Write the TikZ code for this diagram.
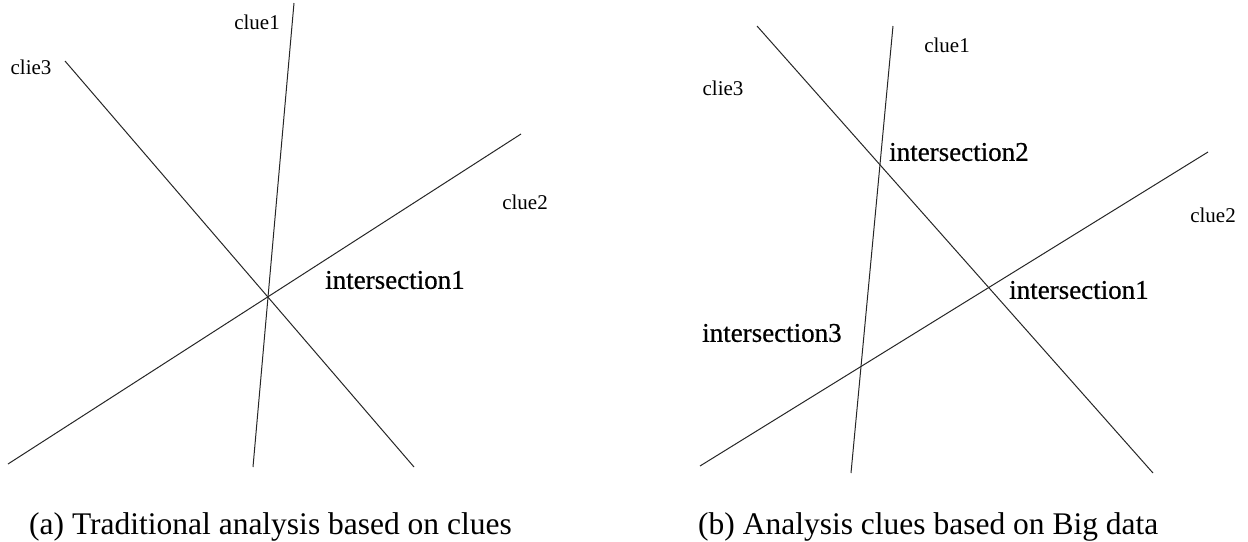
\documentclass[tikz,border=0pt]{standalone}
\usepackage{fontspec}
\setmainfont{Liberation Serif}
\usepackage{tikz}

\tikzset{
  clueline/.style={line width=1pt, black!85},
  cluelabel/.style={inner sep=0pt, font=\fontsize{21}{24}\selectfont},
  isectlabel/.style={inner sep=0pt, font=\fontsize{27}{30}\selectfont\addfontfeature{FakeBold=0.6}},
  caption/.style={inner sep=0pt, anchor=west, font=\fontsize{31.5}{36}\selectfont}
}

\begin{document}
\begin{tikzpicture}[x=1pt,y=-1pt]
    \useasboundingbox (0,0) rectangle (1248,541);
    % (a) one common intersection
    \coordinate (la1) at (294,3);
    \coordinate (lb1) at (253,467);
    \coordinate (la2) at (8,464);
    \coordinate (lb2) at (521,134);
    \coordinate (la3) at (65,61);
    \coordinate (lb3) at (414,467);
    \draw[clueline] (la1) -- (lb1);
    \draw[clueline] (la2) -- (lb2);
    \draw[clueline] (la3) -- (lb3);
    \node[cluelabel] (lclue1) at (257,22) {clue1};
    \node[cluelabel] (lclie3) at (31,67) {clie3};
    \node[cluelabel] (lclue2) at (525,202) {clue2};
    \node[isectlabel, anchor=west] (lisect1) at (325,280) {intersection1};
    \node[caption] (capa) at (29,527) {(a) Traditional analysis based on clues};
    %
    % (b) three separate intersections
    \coordinate (ra1) at (893,26);
    \coordinate (rb1) at (851,473);
    \coordinate (ra2) at (700,466);
    \coordinate (rb2) at (1208,152);
    \coordinate (ra3) at (757,26);
    \coordinate (rb3) at (1153,473);
    \draw[clueline] (ra1) -- (rb1);
    \draw[clueline] (ra2) -- (rb2);
    \draw[clueline] (ra3) -- (rb3);
    \node[cluelabel] (rclue1) at (947,45) {clue1};
    \node[cluelabel] (rclie3) at (723,88) {clie3};
    \node[cluelabel] (rclue2) at (1213,215) {clue2};
    \node[isectlabel, anchor=west] (risect2) at (889,152) {intersection2};
    \node[isectlabel, anchor=west] (risect1) at (1009,290) {intersection1};
    \node[isectlabel, anchor=west] (risect3) at (702,333) {intersection3};
    \node[caption] (capb) at (698,527) {(b) Analysis clues based on Big data};
\end{tikzpicture}
\end{document}
